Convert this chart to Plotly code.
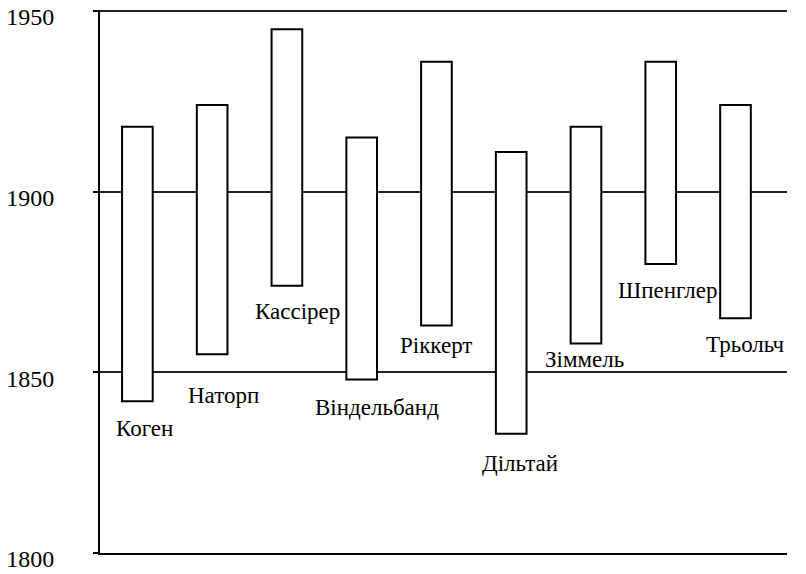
import plotly.graph_objects as go

# Data: philosophers and life years
names = ["Коген", "Наторп", "Кассірер", "Віндельбанд", "Ріккерт",
         "Дільтай", "Зіммель", "Шпенглер", "Трьольч"]
born = [1842, 1855, 1874, 1848, 1863, 1833, 1858, 1880, 1865]
died = [1918, 1924, 1945, 1915, 1936, 1911, 1918, 1936, 1924]
y_ticks = [1800, 1850, 1900, 1950]

# label placement offsets (pixels) – style only
label_dx = [7, 11, 11, 15, 0, 9, -1, 7, 10]
label_dy = [27, 41, 26, 28, 20, 30, 16, 27, 26]

FONT = "Liberation Serif"

fig = go.Figure()
fig.add_trace(go.Bar(
    x=names,
    y=[d - b for b, d in zip(born, died)],
    base=born,
    marker=dict(color="white", line=dict(color="black", width=2)),
    hoverinfo="skip",
    showlegend=False,
))

for n, b, dx, dy in zip(names, born, label_dx, label_dy):
    fig.add_annotation(x=n, y=b, text=n, showarrow=False,
                       xanchor="center", yanchor="middle",
                       xshift=dx, yshift=-dy,
                       font=dict(family=FONT, size=23, color="black"))

fig.update_layout(
    width=806, height=574,
    margin=dict(l=100, r=19, t=10, b=21, autoexpand=False),
    paper_bgcolor="white", plot_bgcolor="white",
    bargap=0.59,
    font=dict(family=FONT, color="black"),
)
fig.update_xaxes(showticklabels=False, showgrid=False, zeroline=False,
                 showline=True, linecolor="black", linewidth=2, ticks="",
                 automargin=False)
fig.update_yaxes(range=[1800, 1950.3], tickvals=y_ticks,
                 showgrid=True, gridcolor="#222", gridwidth=2,
                 zeroline=False, showline=True, linecolor="black", linewidth=2,
                 ticks="outside", ticklen=5, tickwidth=2, tickcolor="black",
                 ticklabelstandoff=34, ticklabelshift=6,
                 ticklabeloverflow="allow", automargin=False,
                 tickfont=dict(family=FONT, size=24, color="black"))

fig.write_html("out.html",
               config={"displayModeBar": False},
               post_script="document.body.style.margin='0';"
                           "document.body.style.overflow='hidden';")
